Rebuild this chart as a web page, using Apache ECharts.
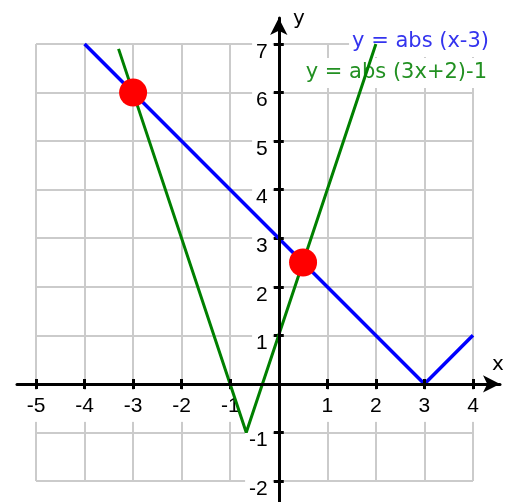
<!DOCTYPE html>
<html>
<head>
<meta charset="utf-8">
<script src="https://cdn.jsdelivr.net/npm/echarts@6/dist/echarts.min.js"></script>
<style>
  html, body { margin: 0; padding: 0; background: #fff; }
  #chart { width: 516px; height: 502px; }
</style>
</head>
<body>
<div id="chart"></div>
<script>
// data
const blueName = 'y = abs (x-3)';
const greenName = 'y = abs (3x+2)-1';
const bluePoints = [[-4, 7], [3, 0], [4, 1]];
const greenPoints = [[-3.3, 6.9], [-0.67, -1], [2, 7]];
const crossPoints = [[-3, 6], [0.5, 2.5]];
const xTicks = [-5, -4, -3, -2, -1, 1, 2, 3, 4];
const yTicks = [-2, -1, 1, 2, 3, 4, 5, 6, 7];

const chart = echarts.init(document.getElementById('chart'));

// grid A: -5..4 x -2..7, one unit = 437 / 9 px
const unit = 437 / 9;
const zeroX = 36 + 5 * unit;   // px of x = 0
const zeroY = 44 + 7 * unit;   // px of y = 0

const black = { color: '#000', width: 3 };
const tickStyle = (vals) => ({ customValues: vals, length: 5, lineStyle: black });
const gridLine = { show: true, lineStyle: { color: '#cbcbcb', width: 2 } };
const font = { fontFamily: 'Liberation Sans', fontSize: 21, color: '#000' };

// second copy of an axis, only to get the tick on the other side
const tickOnly = (extra) => Object.assign({
  type: 'value', gridIndex: 0, interval: 1, z: 5,
  axisLine: { show: false, onZero: false },
  axisLabel: { show: false }, splitLine: { show: false }
}, extra);

const option = {
  animation: false,
  backgroundColor: '#fff',
  grid: [
    { left: 36, right: 43, top: 44, bottom: 21, outerBoundsMode: 'none', containLabel: false },
    // only for the long black axes with arrows
    { left: 17, right: 16, top: 18, bottom: 0, outerBoundsMode: 'none', containLabel: false }
  ],
  xAxis: [
    {
      type: 'value', gridIndex: 0, min: -5, max: 4, interval: 1,
      position: 'bottom', offset: -(481 - zeroY),
      axisLine: { onZero: false, lineStyle: black },
      axisTick: tickStyle(xTicks),
      axisLabel: Object.assign({ customValues: xTicks, margin: 6, padding: [6, 4, 5, 4],
        backgroundColor: '#fff' }, font),
      splitLine: gridLine
    },
    {
      type: 'value', gridIndex: 1, z: 5, min: -(zeroX - 17) / unit, max: (500 - zeroX) / unit,
      position: 'bottom', offset: -(502 - zeroY),
      axisLine: { onZero: false, symbol: ['none', 'arrow'], symbolSize: [13, 17], lineStyle: black },
      axisTick: { show: false }, axisLabel: { show: false }, splitLine: { show: false }
    },
    tickOnly({ min: -5, max: 4, position: 'top', offset: -(zeroY - 44), axisTick: tickStyle(xTicks) })
  ],
  yAxis: [
    {
      type: 'value', gridIndex: 0, min: -2, max: 7, interval: 1,
      position: 'left', offset: -(zeroX - 36),
      axisLine: { onZero: false, lineStyle: black },
      axisTick: tickStyle(yTicks),
      axisLabel: Object.assign({
        customValues: yTicks, margin: 6, padding: [0, 5, 0, 4], backgroundColor: '#fff',
        formatter: (v) => '{a|' + v + '}',
        rich: { a: Object.assign({ padding: [16, 0, 0, 0] }, font) }
      }, font),
      splitLine: gridLine
    },
    {
      type: 'value', gridIndex: 1, z: 5, min: -(502 - zeroY) / unit, max: (zeroY - 18) / unit,
      position: 'left', offset: -(zeroX - 17),
      axisLine: { onZero: false, symbol: ['none', 'arrow'], symbolSize: [13, 17], lineStyle: black },
      axisTick: { show: false }, axisLabel: { show: false }, splitLine: { show: false }
    },
    tickOnly({ min: -2, max: 7, position: 'right', offset: -(473 - zeroX), axisTick: tickStyle(yTicks) })
  ],
  graphic: [
    { type: 'text', z: 1, style: { text: blueName, x: 492, y: 42, textAlign: 'right', textVerticalAlign: 'middle',
        font: '21px "DejaVu Sans"', fill: '#3434ee', backgroundColor: '#fff', padding: [4, 3, 5, 3] } },
    { type: 'text', z: 1, style: { text: greenName, x: 490, y: 73, textAlign: 'right', textVerticalAlign: 'middle',
        font: '21px "DejaVu Sans"', fill: '#229022', backgroundColor: '#fff', padding: [4, 3, 5, 3] } },
    { type: 'text', z: 5, style: { text: 'x', x: 498, y: 365, textAlign: 'center', textVerticalAlign: 'middle',
        font: '20px "DejaVu Sans"', fill: '#000' } },
    { type: 'text', z: 5, style: { text: 'y', x: 299, y: 19, textAlign: 'center', textVerticalAlign: 'middle',
        font: '20px "DejaVu Sans"', fill: '#000' } }
  ],
  series: [
    {
      name: greenName, type: 'line', xAxisIndex: 0, yAxisIndex: 0, z: 3,
      data: greenPoints, showSymbol: false, clip: false,
      lineStyle: { color: '#008000', width: 3 }
    },
    {
      name: blueName, type: 'line', xAxisIndex: 0, yAxisIndex: 0, z: 4,
      data: bluePoints, showSymbol: false, clip: false,
      lineStyle: { color: '#0000ff', width: 3.5 }
    },
    {
      type: 'scatter', xAxisIndex: 0, yAxisIndex: 0, z: 6,
      data: crossPoints, symbolSize: 28,
      itemStyle: { color: '#ff0000', opacity: 1 }
    }
  ]
};

chart.setOption(option);
</script>
</body>
</html>
